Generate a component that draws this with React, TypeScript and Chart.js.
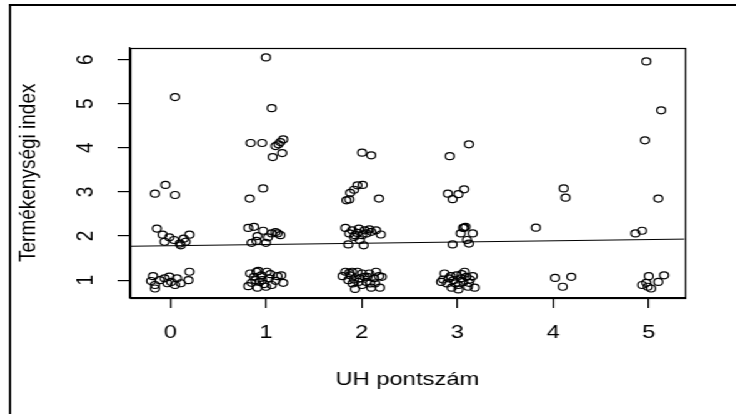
import React, { useEffect, useRef } from "react";
import { Chart, registerables } from "chart.js";

Chart.register(...registerables);

// UH pontszám groups (horizontally jittered) and termékenységi index (jittered)
const uh0X = [0.05, -0.16, -0.05, 0.05, -0.14, -0.08, -0.06, -0.01, 0.04, 0.1, 0.14, 0.16, 0.2, 0.11, -0.18, -0.16, -0.16, -0.11, -0.06, -0.01, 0.01, 0.05, 0.07, 0.11, 0.19, 0.2, -0.03, -0.2];
const uh0Y = [5.15, 2.96, 3.16, 2.93, 2.17, 2.03, 1.87, 1.97, 1.91, 1.83, 1.94, 1.87, 2.03, 1.79, 1.09, 0.89, 0.81, 1.0, 1.04, 1.08, 0.96, 0.89, 1.04, 0.93, 1.0, 1.19, 0.93, 0.98];

const uh1X = [1.0, 1.06, 0.84, 0.96, 1.1, 1.13, 1.15, 1.18, 1.07, 1.17, 0.83, 0.97, 0.815, 0.875, 0.85, 0.9, 0.97, 1.02, 1.06, 1.12, 1.15, 1.0, 0.91, 1.1, 0.815, 0.85, 0.875, 0.9, 0.92, 0.95, 0.96, 0.98, 1.01, 1.03, 1.06, 1.1, 1.16, 1.18, 0.91, 0.835, 1.0, 1.12, 0.93, 0.89, 1.045];
const uh1Y = [6.05, 4.9, 4.11, 4.11, 4.04, 4.08, 4.13, 4.19, 3.79, 3.88, 2.85, 3.08, 2.185, 2.21, 1.845, 1.89, 2.12, 1.97, 2.06, 2.06, 2.02, 1.845, 2.0, 2.09, 0.864, 0.94, 1.075, 1.19, 1.21, 1.11, 1.0, 0.91, 1.19, 1.04, 0.89, 0.985, 1.11, 0.94, 0.83, 1.15, 0.85, 1.09, 0.96, 1.0, 1.135];

const uh2X = [2.004, 2.1, 1.84, 1.87, 1.88, 1.92, 1.955, 2.01, 2.18, 1.83, 1.87, 1.9, 1.92, 1.955, 1.98, 2.004, 2.03, 2.05, 2.08, 2.1, 2.15, 2.2, 1.86, 2.02, 1.93, 1.97, 1.8, 1.83, 1.86, 1.88, 1.905, 1.93, 1.955, 1.98, 2.004, 2.03, 2.05, 2.08, 2.1, 2.13, 2.15, 2.18, 2.19, 2.21, 1.87, 1.92, 2.004, 2.06, 2.09, 1.965, 2.14, 1.9];
const uh2Y = [3.89, 3.83, 2.81, 2.83, 2.98, 3.05, 3.15, 3.16, 2.85, 2.185, 2.06, 2.13, 1.98, 2.07, 1.91, 2.02, 2.13, 2.06, 2.15, 2.095, 2.13, 2.035, 1.81, 1.79, 2.02, 2.17, 1.09, 1.19, 1.0, 1.11, 0.925, 0.8, 1.19, 1.04, 0.89, 1.075, 0.96, 1.15, 0.83, 1.04, 1.19, 1.09, 0.83, 1.075, 1.165, 1.015, 1.15, 1.075, 0.925, 0.96, 0.925, 1.19];

const uh3X = [2.92, 3.12, 2.9, 2.95, 3.01, 3.07, 2.95, 3.035, 3.06, 3.085, 3.1, 3.12, 3.16, 3.07, 2.83, 2.865, 2.89, 2.91, 2.94, 2.96, 2.99, 3.01, 3.035, 3.06, 3.075, 3.095, 3.11, 3.13, 3.16, 3.18, 2.85, 2.98, 3.045, 3.12, 2.93, 3.01];
const uh3Y = [3.81, 4.08, 2.96, 2.835, 2.95, 3.06, 1.81, 2.06, 2.185, 2.21, 1.91, 1.83, 2.06, 2.19, 0.96, 1.15, 0.925, 1.04, 0.83, 1.0, 1.11, 0.89, 1.04, 0.96, 1.19, 1.075, 0.85, 1.015, 1.09, 0.83, 1.015, 0.925, 1.135, 0.94, 1.09, 0.79];

const uh4X = [3.82, 4.11, 4.13, 4.02, 4.1, 4.19];
const uh4Y = [2.19, 3.08, 2.87, 1.05, 0.85, 1.075];

const uh5X = [4.975, 5.13, 4.96, 5.1, 4.86, 4.93, 4.93, 4.975, 5.0, 5.025, 5.1, 5.16, 4.99];
const uh5Y = [5.96, 4.85, 4.17, 2.85, 2.06, 2.12, 0.89, 0.94, 1.09, 0.81, 0.96, 1.11, 0.85];

// linear fit: index = intercept + slope * UH
const fitIntercept = 1.78;
const fitSlope = 0.028;

const xTickValues = [0, 1, 2, 3, 4, 5];
const yTickValues = [1, 2, 3, 4, 5, 6];
const xLimits = [-0.42, 5.373];
const yLimits = [0.595, 6.275];

const xTitle = "UH pontszám";
const yTitle = "Termékenységi index";

// the figure is laid out at this width and stretched horizontally
const STRETCH = 1.25;
const W = 589;
const H = 414;
const FONT = "'Liberation Sans', Arial, sans-serif";
const INK = "#000";

const zipPoints = (xs: number[], ys: number[]) => xs.map((x, i) => ({ x, y: ys[i] }));

const framePlugin = {
  id: "frame",
  beforeDraw(chart: any) {
    const { ctx } = chart;
    ctx.save();
    ctx.fillStyle = "#fff";
    ctx.fillRect(0, 0, chart.width, chart.height);
    ctx.strokeStyle = "#000";
    ctx.lineWidth = 1.8;
    ctx.beginPath();
    ctx.moveTo(8, 4);
    ctx.lineTo(8, chart.height);
    ctx.moveTo(7, 5);
    ctx.lineTo(chart.width, 5);
    ctx.stroke();
    ctx.restore();
  },
  afterDraw(chart: any) {
    const { ctx, chartArea } = chart;
    const l = Math.round(chartArea.left) + 0.5;
    const t = Math.round(chartArea.top) + 0.5;
    const r = Math.round(chartArea.right) + 0.5;
    const b = Math.round(chartArea.bottom) + 0.5;
    ctx.save();
    ctx.strokeStyle = INK;
    ctx.lineWidth = 1.2;
    ctx.strokeRect(l, t, r - l, b - t);
    ctx.restore();
  },
};

export default function App() {
  const canvasRef = useRef<HTMLCanvasElement | null>(null);

  useEffect(() => {
    const canvas = canvasRef.current;
    if (!canvas) return;

    const groups = [
      zipPoints(uh0X, uh0Y),
      zipPoints(uh1X, uh1Y),
      zipPoints(uh2X, uh2Y),
      zipPoints(uh3X, uh3Y),
      zipPoints(uh4X, uh4Y),
      zipPoints(uh5X, uh5Y),
    ];

    const pointSets = groups.map((data) => ({
      data,
      showLine: false,
      pointStyle: "circle" as const,
      pointRadius: 3.5,
      pointBorderWidth: 1.2,
      pointBorderColor: INK,
      pointBackgroundColor: "rgba(0,0,0,0)",
    }));

    const fitLine = {
      data: xLimits.map((x) => ({ x, y: fitIntercept + fitSlope * x })),
      showLine: true,
      borderColor: INK,
      borderWidth: 1,
      pointRadius: 0,
    };

    const chart = new Chart(canvas, {
      type: "scatter",
      data: { datasets: [...pointSets, fitLine] as any },
      plugins: [framePlugin],
      options: {
        animation: false,
        responsive: false,
        devicePixelRatio: 1,
        events: [],
        layout: { padding: { left: 0, top: 47.5, right: W - 547.6, bottom: 0 } },
        plugins: { legend: { display: false }, tooltip: { enabled: false } },
        scales: {
          x: {
            type: "linear",
            position: "bottom",
            min: xLimits[0],
            max: xLimits[1],
            afterBuildTicks: (scale: any) => {
              scale.ticks = xTickValues.map((value) => ({ value }));
            },
            afterFit: (scale: any) => {
              scale.height = H - 298;
            },
            grid: { drawOnChartArea: false, drawTicks: true, tickLength: 10, color: INK, lineWidth: 1.2 },
            border: { display: true, color: INK, width: 1.2 },
            ticks: {
              padding: 13.6,
              color: INK,
              font: { family: FONT, size: 19 },
              maxRotation: 0,
              minRotation: 0,
              callback: (v: any) => String(v),
            },
            title: {
              display: true,
              text: xTitle,
              color: INK,
              font: { family: FONT, size: 19 },
              padding: { top: 0, bottom: 22.6 },
            },
          },
          y: {
            type: "linear",
            position: "left",
            min: yLimits[0],
            max: yLimits[1],
            afterBuildTicks: (scale: any) => {
              scale.ticks = yTickValues.map((value) => ({ value }));
            },
            afterFit: (scale: any) => {
              scale.width = 104;
            },
            grid: { drawOnChartArea: false, drawTicks: true, tickLength: 10, color: INK, lineWidth: 1.2 },
            border: { display: true, color: INK, width: 1.2 },
            ticks: {
              padding: 19.9,
              color: INK,
              font: { family: FONT, size: 19 },
              minRotation: 90,
              maxRotation: 90,
              crossAlign: "center",
              callback: (v: any) => String(v),
            },
            title: {
              display: true,
              text: yTitle,
              color: INK,
              font: { family: FONT, size: 19 },
              padding: { top: 11, bottom: 0 },
            },
          },
        },
      } as any,
    });

    return () => chart.destroy();
  }, []);

  return (
    <div
      style={{
        position: "absolute",
        left: 0,
        top: 0,
        width: W,
        height: H,
        transform: `scaleX(${STRETCH})`,
        transformOrigin: "0 0",
        background: "#fff",
      }}
    >
      <canvas ref={canvasRef} width={W} height={H} style={{ display: "block" }} />
    </div>
  );
}
